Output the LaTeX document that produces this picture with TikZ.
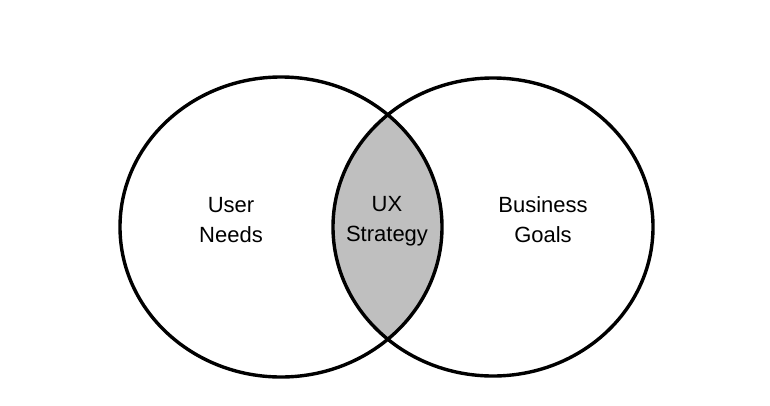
\documentclass[tikz,border=0pt]{standalone}
\usepackage{fontspec}
\setmainfont{Liberation Sans}
\begin{document}
\begin{tikzpicture}[x=1pt,y=-1pt,
  lab/.style={align=center,font=\fontsize{22}{30}\selectfont},
  ring/.style={draw=black,line width=3.4pt}]
\useasboundingbox (0,0) rectangle (770,405);
\begin{scope}
  \clip (281,227) ellipse [x radius=161, y radius=150];
  \fill[gray!50] (493,227) ellipse [x radius=160, y radius=149];
\end{scope}
\draw[ring] (281,227) ellipse [x radius=161, y radius=150];
\draw[ring] (493,227) ellipse [x radius=160, y radius=149];
\node[lab] (u) at (231,220) {User\\Needs};
\node[lab] (x) at (387,221) {UX\\Strategy};
\node[lab] (b) at (543,220) {Business\\Goals};
\end{tikzpicture}
\end{document}
